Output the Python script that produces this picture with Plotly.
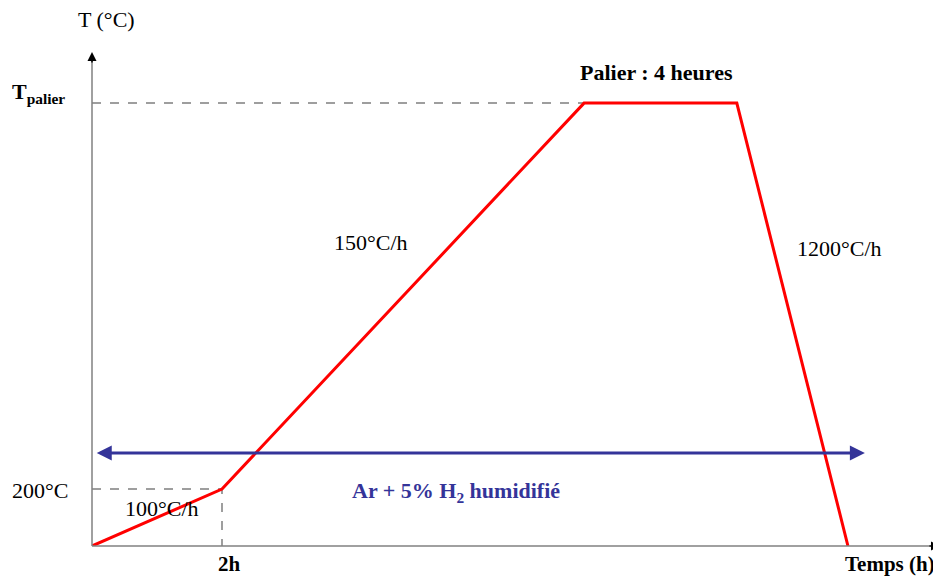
import plotly.graph_objects as go

# Schematic thermal cycle (time in h, temperature in °C, schematic scale)
profile_time = [0, 2, 7.57, 9.92, 11.63]
profile_temp = [0, 200, 1554, 1554, 0]
t_palier = 1554
t_200 = 200
t_2h = 2
gas_y = 326
gas_x = [0.05, 11.89]

X_MAX = 13.046
Y_MAX = 1807

FONT = "Liberation Serif, Times New Roman, serif"
BLUE = "#343499"
FS = 22

# page body has an 8px margin: figure is shifted by 8px
OFF = 8
W, H = 941 - OFF, 577 - OFF
L_REF, R_REF, T_REF, B_REF = 92, 940, 31, 546  # plot area in reference pixels


def px(X):
    return (X - L_REF) / (R_REF - L_REF)


def py(Y):
    return (B_REF - Y) / (B_REF - T_REF)


fig = go.Figure()

# dashed guide lines
fig.add_trace(go.Scatter(x=[0, profile_time[2]], y=[t_palier, t_palier], mode="lines",
                         line=dict(color="#7f7f7f", width=1.5, dash="dash"), hoverinfo="skip"))
fig.add_trace(go.Scatter(x=[0, t_2h, t_2h], y=[t_200, t_200, 0], mode="lines",
                         line=dict(color="#7f7f7f", width=1.5, dash="dash"), hoverinfo="skip"))
# red profile
fig.add_trace(go.Scatter(x=profile_time, y=profile_temp, mode="lines",
                         line=dict(color="#ff0000", width=3), hoverinfo="skip", cliponaxis=False))

anns = []
shapes = [
    dict(type="line", xref="paper", yref="paper", x0=0, y0=0, x1=px(930), y1=0,
         line=dict(color="#808080", width=1.5)),
    dict(type="line", xref="paper", yref="paper", x0=0, y0=0, x1=0, y1=py(60),
         line=dict(color="#808080", width=1.5)),
]
# black arrow tips of the axes
anns.append(dict(x=1, y=0, ax=-12, ay=0, xref="paper", yref="paper",
                 showarrow=True, arrowhead=2, arrowsize=1.2, arrowwidth=1.5, arrowcolor="#000000", text=""))
anns.append(dict(x=0, y=py(52), ax=0, ay=12, xref="paper", yref="paper",
                 showarrow=True, arrowhead=2, arrowsize=1.2, arrowwidth=1.5, arrowcolor="#000000", text=""))
# gas double arrow
anns.append(dict(x=gas_x[1], y=gas_y, ax=gas_x[0], ay=gas_y, xref="x", yref="y", axref="x", ayref="y",
                 showarrow=True, arrowhead=2, startarrowhead=2, arrowside="end+start",
                 arrowsize=1, arrowwidth=3, arrowcolor=BLUE, text=""))


def lab(text, X, Y, size=FS, color="#000000", xanchor="center", yanchor="middle"):
    anns.append(dict(text=text, x=px(X), y=py(Y), xref="paper", yref="paper", showarrow=False,
                     font=dict(family=FONT, size=size, color=color),
                     xanchor=xanchor, yanchor=yanchor))


lab("T (°C)", 106, 20)
lab("<b>T<sub>palier</sub></b>", 10, 93, xanchor="left")
lab("200°C", 10, 490, xanchor="left")
lab("100°C/h", 162, 508)
lab("<b>2h</b>", 229, 564, size=21)
lab("<b>Temps (h)</b>", 890, 564, size=21)
lab("150°C/h", 371, 242)
lab("<b>Palier : 4 heures</b>", 656, 72)
lab("1200°C/h", 839, 248)
lab("<b>Ar + 5% H<sub>2</sub> humidifié</b>", 456, 492, color=BLUE)

fig.update_layout(
    width=W, height=H,
    margin=dict(l=L_REF - OFF, r=W - (R_REF - OFF), t=T_REF - OFF, b=H - (B_REF - OFF)),
    paper_bgcolor="white", plot_bgcolor="white",
    showlegend=False,
    xaxis=dict(range=[0, X_MAX], visible=False, fixedrange=True),
    yaxis=dict(range=[0, Y_MAX], visible=False, fixedrange=True),
    annotations=anns,
    shapes=shapes,
)

fig.write_html("out.html")
